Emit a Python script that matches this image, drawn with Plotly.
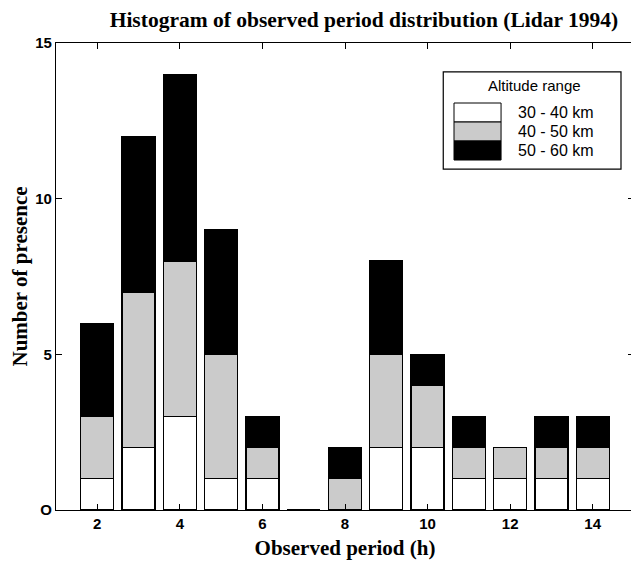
import plotly.graph_objects as go

# Observed periods (h) and counts per altitude range
periods = [2, 3, 4, 5, 6, 7, 8, 9, 10, 11, 12, 13, 14]
alt_30_40 = [1, 2, 3, 1, 1, 0, 0, 2, 2, 1, 1, 1, 1]
alt_40_50 = [2, 5, 5, 4, 1, 0, 1, 3, 2, 1, 1, 1, 1]
alt_50_60 = [3, 5, 6, 4, 1, 0, 1, 3, 1, 1, 0, 1, 1]

series_names = ["30 - 40 km", "40 - 50 km", "50 - 60 km"]
series_values = [alt_30_40, alt_40_50, alt_50_60]
series_colors = ["white", "#cbcbcb", "black"]

x_ticks = [2, 4, 6, 8, 10, 12, 14]
y_ticks = [0, 5, 10, 15]
y_ticklabels = ["O", "5", "10", "15"]

serif = "Liberation Serif, Times New Roman, serif"
sans = "Liberation Sans, Arial, sans-serif"

fig = go.Figure()

for name, vals, col in zip(series_names, series_values, series_colors):
    fig.add_trace(
        go.Bar(
            x=periods,
            y=vals,
            name=name,
            width=0.8,
            marker=dict(color=col, line=dict(color="black", width=1.2)),
            showlegend=False,
        )
    )

# Custom legend box (big stacked swatches like the original)
fig.add_shape(type="rect", xref="paper", yref="paper",
              x0=0.670, x1=0.9775, y0=0.730, y1=0.938,
              line=dict(color="black", width=1.2), fillcolor="white", layer="above")
fig.add_annotation(x=0.827, y=0.910, xref="paper", yref="paper", text="Altitude range",
                   showarrow=False, xanchor="center", yanchor="middle",
                   font=dict(family=sans, size=15, color="black"))

row_h = 0.0407
top = 0.8715
for i, (name, col) in enumerate(zip(series_names, series_colors)):
    y1 = top - i * row_h
    y0 = y1 - row_h
    fig.add_shape(type="rect", xref="paper", yref="paper", x0=0.6886, x1=0.770,
                  y0=y0, y1=y1, fillcolor=col, line=dict(color="black", width=1),
                  layer="above")
    fig.add_annotation(x=0.796, y=(y0 + y1) / 2, xref="paper", yref="paper",
                       text=name, showarrow=False, xanchor="left", yanchor="middle",
                       font=dict(family=sans, size=16, color="black"))

# page body adds an 8px offset, so the figure is a bit smaller than the window
fig.update_layout(
    barmode="stack",
    width=631,
    height=556,
    margin=dict(l=48, r=5, t=35, b=54),
    plot_bgcolor="white",
    paper_bgcolor="white",
    title=dict(
        text="<b>Histogram of observed period distribution (Lidar 1994)</b>",
        x=0.564,
        xanchor="center",
        y=0.992,
        yanchor="top",
        font=dict(family=serif, size=21.5, color="black"),
    ),
)

fig.update_xaxes(
    range=[1, 15],
    tickvals=x_ticks,
    ticks="inside",
    ticklen=6,
    tickcolor="black",
    showline=True,
    linecolor="black",
    linewidth=1.2,
    mirror="ticks",
    showgrid=False,
    zeroline=False,
    automargin=False,
    tickfont=dict(family=sans, size=15, color="black", weight="bold"),
    title=dict(text="<b>Observed period (h)</b>", standoff=9,
               font=dict(family=serif, size=21, color="black")),
)

fig.update_yaxes(
    range=[0, 15],
    tickvals=y_ticks,
    ticktext=y_ticklabels,
    ticks="inside",
    ticklen=6,
    tickcolor="black",
    showline=True,
    linecolor="black",
    linewidth=1.2,
    mirror="ticks",
    showgrid=False,
    zeroline=False,
    automargin=False,
    tickfont=dict(family=sans, size=15, color="black", weight="bold"),
    title=dict(text="<b>Number of presence</b>", standoff=13,
               font=dict(family=serif, size=21, color="black")),
)

fig.write_html("out.html")
